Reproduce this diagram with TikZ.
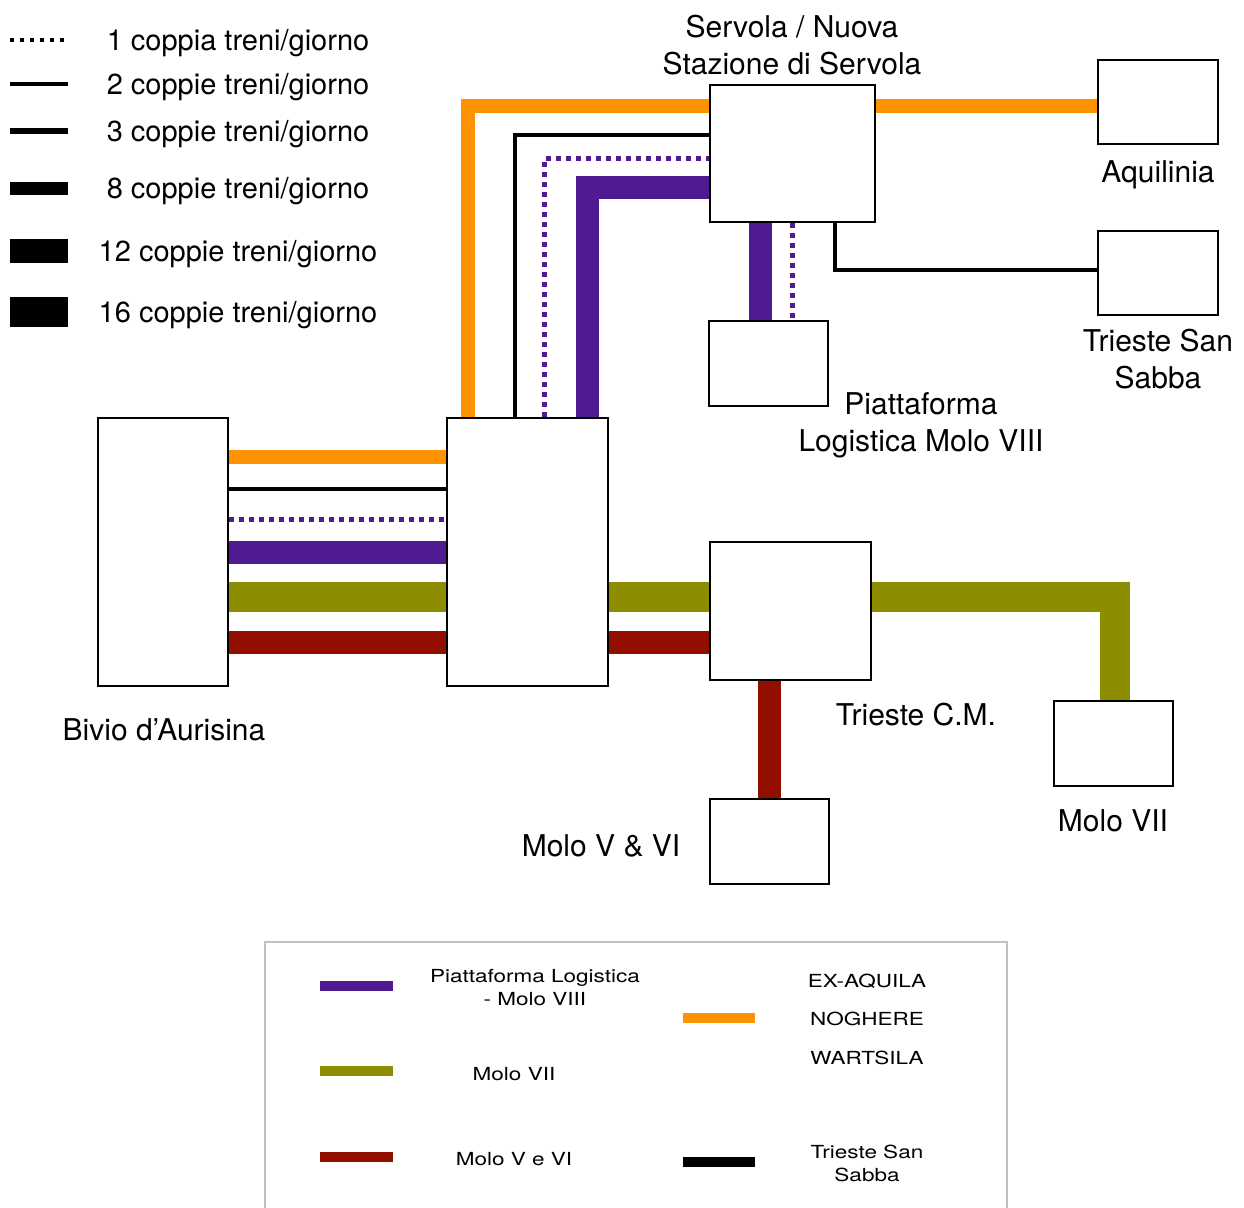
\documentclass[tikz,border=0pt]{standalone}
\usepackage{fontspec}
\setmainfont{TeX Gyre Heros}
\newfontfamily\legfont[FakeStretch=1.25]{TeX Gyre Heros}
\usetikzlibrary{backgrounds}
\definecolor{lnorange}{RGB}{255,146,0}
\definecolor{lnpurple}{RGB}{80,27,145}
\definecolor{lnolive}{RGB}{141,141,0}
\definecolor{lnred}{RGB}{146,15,0}
\begin{document}
\begin{tikzpicture}[x=1pt, y=-1pt,
    box/.style={draw, line width=1.8pt, fill=white, inner sep=0pt},
    lbl/.style={font=\fontsize{30}{37}\selectfont, align=center},
    keytext/.style={font=\fontsize{29}{35}\selectfont},
    legtext/.style={font=\legfont\fontsize{18}{23}\selectfont, align=center},
    track/.style={line width=#1, line cap=butt, line join=miter},
    dots/.style={line width=5pt, dash pattern=on 5pt off 5pt}]
\useasboundingbox (0,0) rectangle (1244,1207);
\clip (0,0) rectangle (1244,1207);

% key: trains per day
\draw[line width=4, dash pattern=on 4pt off 6pt] (10,40) -- (68,40);
\node[keytext] (key1) at (238,43) {1 coppia treni/giorno};
\foreach \y/\w/\n in {84/4/2, 131/6/3, 188/13/8, 251/24/12, 312/30/16} {
    \draw[line width=\w] (10,\y) -- (68,\y);
    \node[keytext] (key\n) at (238,\y+3) {\n\ coppie treni/giorno};
}

% stations
\node[box, minimum width=130, minimum height=268] (bivio) at (163,552) {};
\node[box, minimum width=161, minimum height=268] (mid) at (527.5,552) {};
\node[box, minimum width=165, minimum height=137] (servola) at (792.5,153.5) {};
\node[box, minimum width=120, minimum height=84] (aquil) at (1158,102) {};
\node[box, minimum width=120, minimum height=84] (sabba) at (1158,273) {};
\node[box, minimum width=119, minimum height=85] (piatt) at (768.5,363.5) {};
\node[box, minimum width=161, minimum height=138] (tcm) at (790.5,611) {};
\node[box, minimum width=119, minimum height=85] (molo7) at (1113.5,743.5) {};
\node[box, minimum width=119, minimum height=85] (molo5) at (769.5,841.5) {};

\node[lbl] (bivio-lbl) at (164,730) {Bivio d’Aurisina};
\node[lbl] (servola-lbl) at (792,45) {Servola / Nuova\\Stazione di Servola};
\node[lbl] (aquil-lbl) at (1158,175) {Aquilinia};
\node[lbl] (sabba-lbl) at (1158,359) {Trieste San\\Sabba};
\node[lbl] (piatt-lbl) at (921,425) {Piattaforma\\Logistica Molo VIII};
\node[lbl] (tcm-lbl) at (916,715) {Trieste C.M.};
\node[lbl] (molo7-lbl) at (1113,821) {Molo VII};
\node[lbl] (molo5-lbl) at (601,846) {Molo V \& VI};

\begin{scope}[on background layer]
% Bivio - centre
\draw[track=14, lnorange] (bivio.east |- 0,457) -- (mid.west |- 0,457);
\draw[track=4] (bivio.east |- 0,489) -- (mid.west |- 0,489);
\draw[dots, lnpurple] (bivio.east |- 0,519) -- (mid.west |- 0,519);
\draw[track=23, lnpurple] (bivio.east |- 0,552) -- (mid.west |- 0,552);
\draw[track=30, lnolive] (bivio.east |- 0,597) -- (mid.west |- 0,597);
\draw[track=23, lnred] (bivio.east |- 0,642) -- (mid.west |- 0,642);
% centre - Servola
\draw[track=14, lnorange] (mid.north -| 468,0) |- (servola.west |- 0,106);
\draw[track=4] (mid.north -| 515,0) |- (servola.west |- 0,135);
\draw[dots, lnpurple] (mid.north -| 544.5,0) |- (servola.west |- 0,158.5);
\draw[track=23, lnpurple] (mid.north -| 587.5,0) |- (servola.west |- 0,187);
% Servola - branches
\draw[track=14, lnorange] (servola.east |- 0,106) -- (aquil.west |- 0,106);
\draw[track=4] (servola.south -| 835,0) |- (sabba.west |- 0,270);
\draw[track=23, lnpurple] (servola.south -| 760.5,0) -- (piatt.north -| 760.5,0);
\draw[dots, lnpurple] (servola.south -| 792.5,0) -- (piatt.north -| 792.5,0);
% centre - Trieste C.M. - moli
\draw[track=30, lnolive] (mid.east |- 0,597) -- (tcm.west |- 0,597);
\draw[track=23, lnred] (mid.east |- 0,642) -- (tcm.west |- 0,642);
\draw[track=30, lnolive] (tcm.east |- 0,597) -| (molo7.north -| 1114.5,0);
\draw[track=23, lnred] (tcm.south -| 769,0) -- (molo5.north -| 769,0);
\end{scope}

% legend of lines
\draw[black!25, line width=1.2] (265,942) rectangle (1007,1240);
\draw[track=10, lnpurple] (320,986) -- (393,986);
\draw[track=10, lnolive] (320,1071) -- (393,1071);
\draw[track=10, lnred] (320,1157) -- (393,1157);
\draw[track=10, lnorange] (683,1018) -- (755,1018);
\draw[track=10, black] (683,1162) -- (755,1162);
\node[legtext] (leg-piatt) at (535,988) {Piattaforma Logistica\\- Molo VIII};
\node[legtext] (leg-molo7) at (514,1074) {Molo VII};
\node[legtext] (leg-molo5) at (514,1159) {Molo V e VI};
\node[legtext] (leg-aquila) at (867,981) {EX-AQUILA};
\node[legtext] (leg-noghere) at (867,1019) {NOGHERE};
\node[legtext] (leg-wartsila) at (867,1058) {WARTSILA};
\node[legtext] (leg-sabba) at (867,1163) {Trieste San\\Sabba};
\end{tikzpicture}
\end{document}
